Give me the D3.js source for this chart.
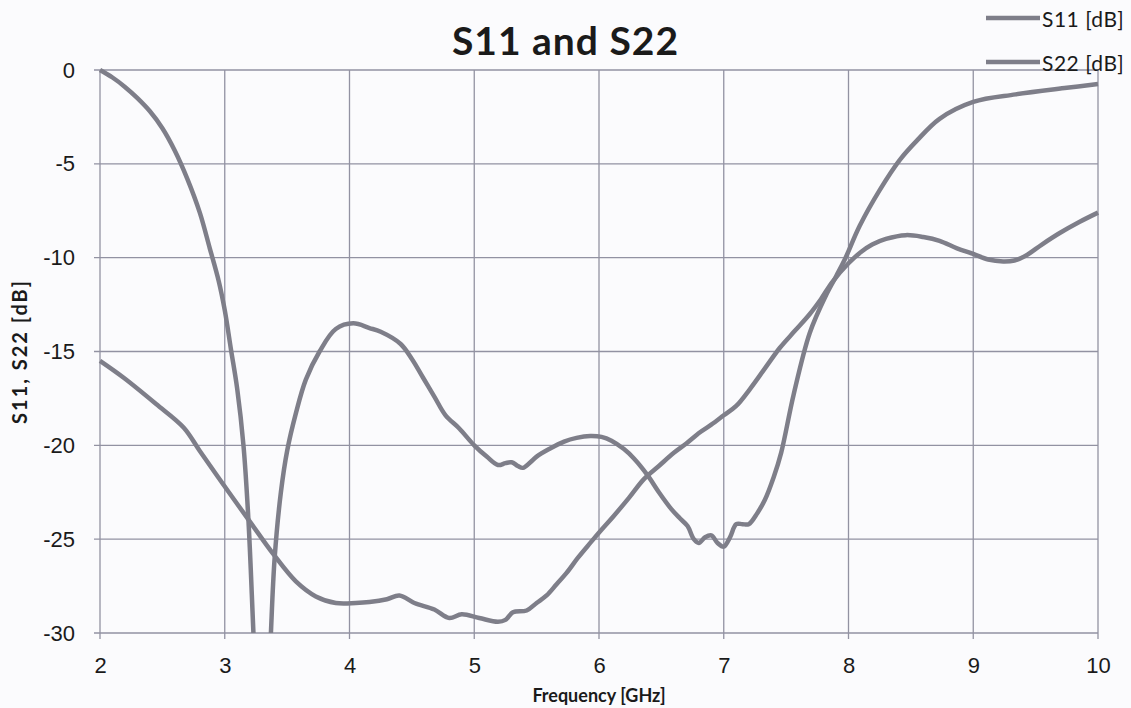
<!DOCTYPE html>
<html>
<head>
<meta charset="utf-8">
<script src="https://cdn.jsdelivr.net/npm/d3@7/dist/d3.min.js"></script>
<style>
  html, body { margin: 0; padding: 0; background: #fbfbfd; }
  svg { display: block; font-family: Lato, "Open Sans", sans-serif; }
</style>
</head>
<body>
<svg id="chart" width="1131" height="708"></svg>
<script>
// ---- data ----
const xTicks = [2, 3, 4, 5, 6, 7, 8, 9, 10];
const yTicks = [0, -5, -10, -15, -20, -25, -30];
const seriesNames = ["S11 [dB]", "S22 [dB]"];

const s11Freq = [2.0, 2.1, 2.2, 2.3, 2.4, 2.5, 2.6, 2.7, 2.8, 2.88, 2.95, 3.0, 3.05, 3.1, 3.15, 3.19, 3.23, 3.27, 3.3,
  3.34, 3.37, 3.4, 3.45, 3.5, 3.57, 3.65, 3.76, 3.89, 4.03, 4.16, 4.25, 4.41, 4.5, 4.59, 4.68, 4.77, 4.88, 5.0,
  5.1, 5.19, 5.25, 5.3, 5.35, 5.39, 5.45, 5.5, 5.6, 5.72, 5.82, 5.93, 6.02, 6.1, 6.2, 6.28, 6.39, 6.48, 6.58,
  6.65, 6.71, 6.76, 6.8, 6.85, 6.9, 6.95, 7.0, 7.05, 7.1, 7.15, 7.2, 7.27, 7.33, 7.4, 7.46, 7.56, 7.69, 7.82,
  7.9, 7.97, 8.09, 8.25, 8.41, 8.55, 8.73, 9.0, 9.34, 9.75, 10.0];
const s11Values = [0, -0.4, -0.9, -1.5, -2.2, -3.1, -4.3, -5.8, -7.6, -9.5, -11.2, -12.8, -14.9, -17.0, -20.0, -24.0, -30.0, -36, -38,
  -35, -30.0, -26.0, -22.5, -20.3, -18.3, -16.5, -15.0, -13.8, -13.5, -13.75, -13.95, -14.6, -15.4, -16.4, -17.4, -18.4, -19.1, -20.0,
  -20.6, -21.05, -20.95, -20.9, -21.1, -21.2, -20.9, -20.6, -20.2, -19.8, -19.6, -19.5, -19.55, -19.75, -20.2, -20.7, -21.6, -22.5, -23.4,
  -23.9, -24.3, -25.0, -25.2, -24.9, -24.8, -25.2, -25.4, -24.9, -24.2, -24.2, -24.2, -23.6, -22.9, -21.7, -20.4, -17.3, -14.0, -12.0,
  -11.0, -10.1, -8.3, -6.4, -4.8, -3.75, -2.6, -1.7, -1.3, -0.95, -0.75];

const s22Freq = [2.0, 2.19, 2.45, 2.67, 2.8, 2.99, 3.2, 3.39, 3.57, 3.73, 3.89, 4.05, 4.16, 4.3, 4.4, 4.52, 4.68, 4.8,
  4.9, 5.04, 5.19, 5.25, 5.31, 5.42, 5.5, 5.58, 5.66, 5.74, 5.83, 5.93, 6.02, 6.12, 6.24, 6.36, 6.48, 6.6, 6.7,
  6.81, 6.9, 7.0, 7.1, 7.21, 7.33, 7.45, 7.57, 7.69, 7.78, 7.87, 8.0, 8.1, 8.19, 8.3, 8.46, 8.6, 8.73, 8.87,
  9.0, 9.12, 9.24, 9.33, 9.42, 9.55, 9.69, 9.85, 10.0];
const s22Values = [-15.5, -16.4, -17.8, -19.05, -20.3, -22.1, -24.05, -25.8, -27.25, -28.05, -28.4, -28.4, -28.35, -28.2, -28.0, -28.4, -28.75, -29.2,
  -29.0, -29.2, -29.4, -29.3, -28.9, -28.8, -28.4, -28.0, -27.4, -26.8, -26.0, -25.2, -24.5, -23.75, -22.8, -21.8, -21.1, -20.4, -19.9,
  -19.3, -18.9, -18.4, -17.9, -17.0, -15.9, -14.8, -13.9, -13.0, -12.2, -11.3, -10.3, -9.7, -9.3, -9.0, -8.8, -8.9, -9.1, -9.5,
  -9.8, -10.1, -10.2, -10.15, -9.9, -9.3, -8.7, -8.1, -7.6];

// ---- layout ----
const svg = d3.select("#chart");
const W = 1131, H = 708;
const m = { left: 100, right: 1098, top: 70, bottom: 633 };
const lineColor = "#7e7e89";
const gridColor = "#9292a2";
const textColor = "#1a1a1a";

const x = d3.scaleLinear().domain([2, 10]).range([m.left, m.right]);
const y = d3.scaleLinear().domain([-30, 0]).range([m.bottom, m.top]);

// grid
const g = svg.append("g");
g.selectAll("line.hg").data(yTicks).join("line")
  .attr("x1", m.left - 6).attr("x2", m.right)
  .attr("y1", d => y(d)).attr("y2", d => y(d))
  .attr("stroke", gridColor).attr("stroke-width", 1.3);
g.selectAll("line.vg").data(xTicks).join("line")
  .attr("x1", d => x(d)).attr("x2", d => x(d))
  .attr("y1", m.top).attr("y2", m.bottom + 6)
  .attr("stroke", gridColor).attr("stroke-width", 1.3);

// tick labels via d3 axes (domain and tick lines hidden; grid drawn above)
const xAxis = d3.axisBottom(x).tickValues(xTicks).tickSize(0).tickPadding(0).tickFormat(d3.format("d"));
svg.append("g").attr("transform", `translate(0,${m.bottom + 24})`).call(xAxis)
  .call(a => a.select(".domain").remove())
  .selectAll("text").attr("fill", textColor).style("font-size", "22px").attr("dy", "0.71em");

const yAxis = d3.axisLeft(y).tickValues(yTicks).tickSize(0).tickPadding(0).tickFormat(d3.format("d"));
svg.append("g").attr("transform", `translate(${m.left - 25},0)`).call(yAxis)
  .call(a => a.select(".domain").remove())
  .selectAll("text").attr("fill", textColor).style("font-size", "22px").text(d => String(d));

// clip
svg.append("clipPath").attr("id", "clip").append("rect")
  .attr("x", m.left - 3).attr("y", m.top - 6).attr("width", m.right - m.left + 6).attr("height", m.bottom - m.top + 6);

const line = d3.line().x(d => x(d[0])).y(d => y(d[1])).curve(d3.curveCatmullRom.alpha(0.5));
const s11 = s11Freq.map((f, i) => [f, s11Values[i]]);
const s22 = s22Freq.map((f, i) => [f, s22Values[i]]);

const plot = svg.append("g").attr("clip-path", "url(#clip)");
[s11, s22].forEach(d => {
  plot.append("path").datum(d).attr("d", line)
    .attr("fill", "none").attr("stroke", lineColor).attr("stroke-width", 4.5)
    .attr("stroke-linejoin", "round").attr("stroke-linecap", "butt");
});

// title
svg.append("text").attr("x", W / 2).attr("y", 55).attr("text-anchor", "middle")
  .attr("fill", textColor).style("font-size", "39px").style("font-weight", "bold")
  .style("letter-spacing", "1px").text("S11 and S22");

// axis titles
svg.append("text").attr("x", (m.left + m.right) / 2).attr("y", 702).attr("text-anchor", "middle")
  .attr("fill", textColor).style("font-size", "18px").style("font-weight", "bold").text("Frequency [GHz]");
svg.append("text").attr("transform", `translate(27,${(m.top + m.bottom) / 2}) rotate(-90)`)
  .attr("text-anchor", "middle").attr("fill", textColor)
  .style("font-size", "20px").style("font-weight", "bold").style("letter-spacing", "2px")
  .text("S11, S22 [dB]");

// legend
const leg = svg.append("g");
seriesNames.forEach((name, i) => {
  const ly = 18 + i * 44;
  leg.append("line").attr("x1", 986).attr("x2", 1040).attr("y1", ly).attr("y2", ly)
    .attr("stroke", lineColor).attr("stroke-width", 4.5);
  leg.append("text").attr("x", 1042).attr("y", ly + 9).attr("fill", textColor)
    .style("font-size", "21px").style("letter-spacing", "0.5px").text(name);
});
</script>
</body>
</html>
